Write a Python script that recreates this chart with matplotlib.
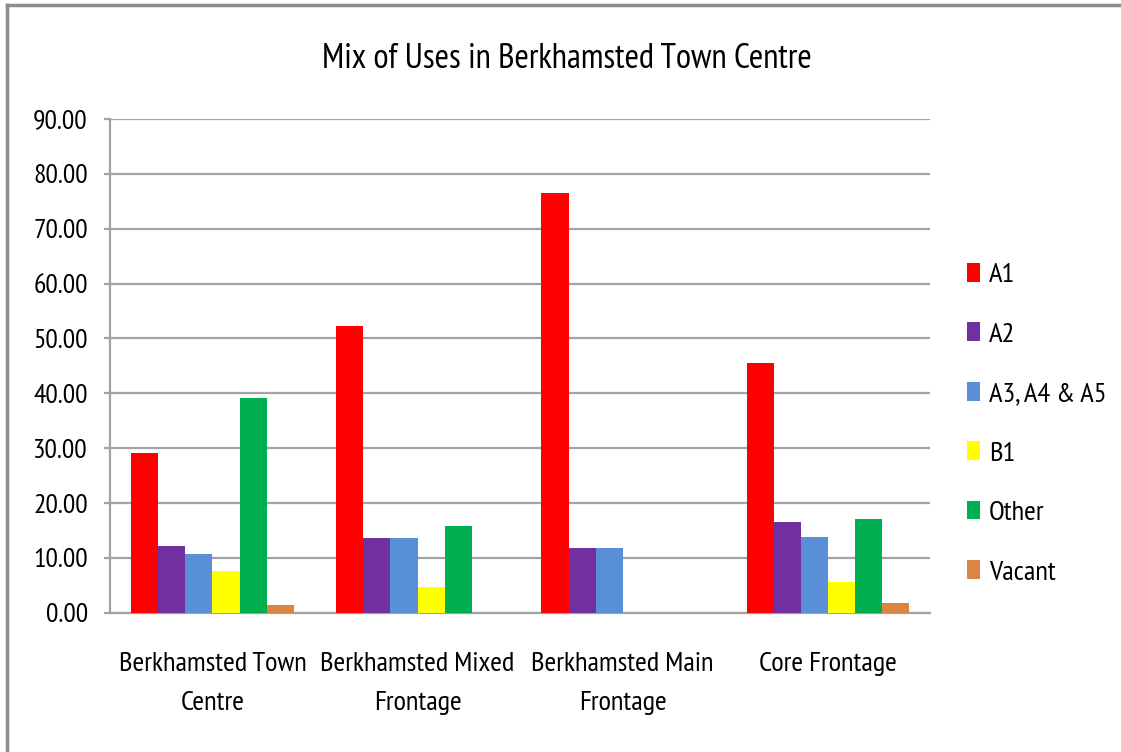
import numpy as np
import matplotlib
matplotlib.use("Agg")
import matplotlib.pyplot as plt
from matplotlib.patches import Patch

plt.rcParams['font.family'] = ['PT Sans Narrow', 'DejaVu Sans']

categories = ['Berkhamsted Town\nCentre', 'Berkhamsted Mixed\nFrontage',
              'Berkhamsted Main\nFrontage', 'Core Frontage']
series = ['A1', 'A2', 'A3, A4 & A5', 'B1', 'Other', 'Vacant']
a1 = [29.1, 52.3, 76.4, 45.5]
a2 = [12.2, 13.6, 11.9, 16.5]
a345 = [10.7, 13.6, 11.9, 13.9]
b1 = [7.6, 4.7, 0.0, 5.6]
other = [39.1, 15.9, 0.0, 17.1]
vacant = [1.5, 0.0, 0.0, 1.8]
values = [a1, a2, a345, b1, other, vacant]
colors = ['#FF0000', '#7030A0', '#588FD6', '#FFFF00', '#00B050', '#DA8543']
yticks = np.arange(0, 91, 10)

fig = plt.figure(figsize=(11.21, 7.52), dpi=100)
ax = fig.add_axes([0.098, 0.185, 0.732, 0.657])

x = np.arange(len(categories))
w = 0.132
for i, (vals, c) in enumerate(zip(values, colors)):
    ax.bar(x + (i - 2.5) * w, vals, width=w, color=c, linewidth=0, zorder=3)

ax.set_xlim(-0.5, 3.5)
ax.set_ylim(0, 90)
ax.set_yticks(yticks)
ax.set_yticklabels([f'{v:.2f}' for v in yticks], fontsize=20)
ax.set_xticks(x)
ax.set_xticklabels(categories, fontsize=20.5, linespacing=1.78)
ax.yaxis.grid(True, color='#A3A3A3', linewidth=1.6, zorder=0)
ax.tick_params(axis='y', length=4, color='#A3A3A3', width=1.6, pad=12)
ax.tick_params(axis='x', length=0, pad=28)
for s in ['top', 'right']:
    ax.spines[s].set_visible(False)
for s in ['left', 'bottom']:
    ax.spines[s].set_color('#A3A3A3')
    ax.spines[s].set_linewidth(1.6)

fig.text(0.506, 0.921, 'Mix of Uses in Berkhamsted Town Centre',
         ha='center', va='center', fontsize=25)

handles = [Patch(facecolor=c, edgecolor='none') for c in colors]
fig.legend(handles, series, loc='upper left', bbox_to_anchor=(0.84, 0.6845),
           frameon=False, fontsize=20.5, handlelength=0.46, handleheight=0.63,
           handletextpad=0.3, labelspacing=1.235)

# outer chart border (top and left visible)
fig.add_artist(plt.Line2D([0.006, 1.0], [0.994, 0.994], color='#8C8C8C', linewidth=2.5))
fig.add_artist(plt.Line2D([0.006, 0.006], [0.0, 0.994], color='#8C8C8C', linewidth=2.5))

fig.savefig('out.png', dpi=100)
